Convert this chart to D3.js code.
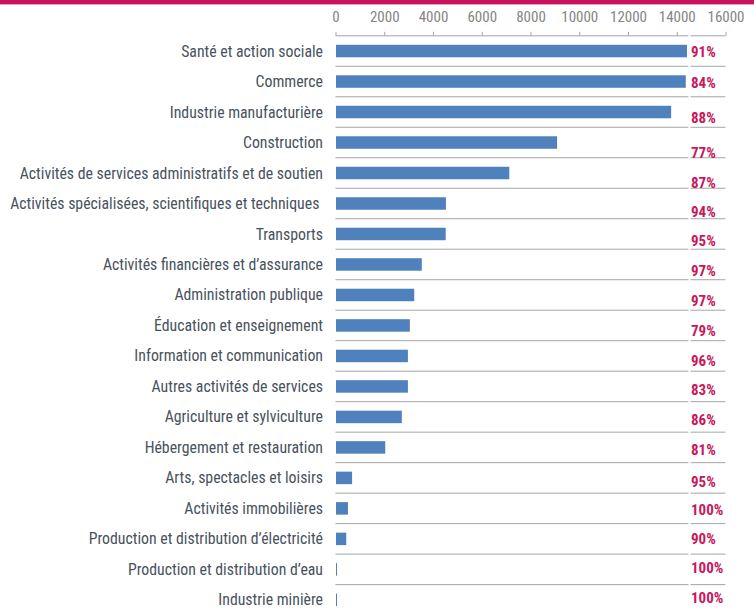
<!DOCTYPE html>
<html lang="fr"><head><meta charset="utf-8">
<script src="https://cdn.jsdelivr.net/npm/d3@7"></script>
<style>
  body { margin: 0; background: #fff; }
  svg { display: block; }
  .lbl { font-family: "Roboto Condensed", "Roboto", sans-serif; font-size: 15.8px; fill: #48525e; }
  .pct { font-family: "Roboto Condensed", "Roboto", sans-serif; font-size: 15px; font-weight: 700; fill: #c8175d; }
  .tick text { font-family: "Roboto Condensed", "Roboto", sans-serif; font-size: 15px; fill: #858585; }
</style>
</head><body>
<svg id="chart" width="754" height="612"></svg>
<script>
// Secteurs d'activité, effectifs et part en pourcentage
const sectors = [
  "Santé et action sociale",
  "Commerce",
  "Industrie manufacturière",
  "Construction",
  "Activités de services administratifs et de soutien",
  "Activités spécialisées, scientifiques et techniques ",
  "Transports",
  "Activités financières et d’assurance",
  "Administration publique",
  "Éducation et enseignement",
  "Information et communication",
  "Autres activités de services",
  "Agriculture et sylviculture",
  "Hébergement et restauration",
  "Arts, spectacles et loisirs",
  "Activités immobilières",
  "Production et distribution d’électricité",
  "Production et distribution d’eau",
  "Industrie minière"
];
const counts = [14400, 14350, 13750, 9070, 7110, 4510, 4500, 3520, 3210, 3030, 2950, 2950, 2700, 2020, 660, 490, 420, 40, 40];
const shares = [91, 84, 88, 77, 87, 94, 95, 97, 97, 79, 96, 83, 86, 81, 95, 100, 90, 100, 100];
const tickValues = [0, 2000, 4000, 6000, 8000, 10000, 12000, 14000, 16000];

// Vertical offsets of the percentage labels within their rows (px)
const shareLabelNudge = [1, 1, 6, 10, 10, 8, 7, 6.5, 6, 5.5, 5, 3, 2.5, 2.5, 4, 1, 0, -1.5, -2];

const W = 754, H = 612;
const top0 = 35.8, step = 30.49;
const colSplit = 688.5, colGap = 2;

const svg = d3.select("#chart");

// Bandeau supérieur
svg.append("rect").attr("x", 0).attr("y", 0).attr("width", W).attr("height", 4.4).attr("fill", "#c8125c");

const x = d3.scaleLinear().domain([0, 16000]).range([335.5, 725.5]);
const y = d3.scaleBand().domain(sectors)
  .range([top0, top0 + step * sectors.length])
  .paddingInner(0.59).paddingOuter(0.295);
const rows = d3.scaleBand().domain(sectors).range([top0, top0 + step * sectors.length]);

// Axe supérieur
const axis = d3.axisTop(x).tickValues(tickValues).tickFormat(d3.format("d"))
  .tickSizeInner(4).tickSizeOuter(0).tickPadding(9.8);
const gAxis = svg.append("g").attr("transform", `translate(0,${top0})`).call(axis);
gAxis.select(".domain").remove();
gAxis.selectAll(".tick line").attr("stroke", "#a6a6a6");

// Lignes de séparation (deux colonnes : barres et pourcentages)
const sepYs = d3.range(sectors.length).map(i => top0 + i * step);
const seps = svg.append("g").attr("stroke", "#a6a6a6").attr("stroke-width", 1);
seps.selectAll("line.a").data(sepYs).join("line").attr("class", "a")
  .attr("x1", x(0)).attr("x2", colSplit).attr("y1", d => d).attr("y2", d => d);
seps.selectAll("line.b").data(sepYs).join("line").attr("class", "b")
  .attr("x1", colSplit + colGap).attr("x2", x(16000)).attr("y1", d => d).attr("y2", d => d);

// Barres
svg.append("g").selectAll("rect").data(sectors).join("rect")
  .attr("x", x(0) + 0.5)
  .attr("y", d => y(d))
  .attr("width", (d, i) => Math.max(1, x(counts[i]) - x(0)))
  .attr("height", y.bandwidth())
  .attr("fill", "#4f81bd");

// Libellés des secteurs
svg.append("g").selectAll("text").data(sectors).join("text")
  .attr("class", "lbl")
  .attr("x", 323)
  .attr("y", d => rows(d) + rows.bandwidth() / 2)
  .attr("dy", "0.35em")
  .attr("text-anchor", "end")
  .attr("xml:space", "preserve")
  .style("white-space", "pre")
  .text(d => d);

// Pourcentages
svg.append("g").selectAll("text").data(sectors).join("text")
  .attr("class", "pct")
  .attr("x", colSplit + colGap + 0.5)
  .attr("y", (d, i) => rows(d) + rows.bandwidth() / 2 + shareLabelNudge[i])
  .attr("dy", "0.35em")
  .text((d, i) => shares[i] + "%");
</script>
</body></html>
